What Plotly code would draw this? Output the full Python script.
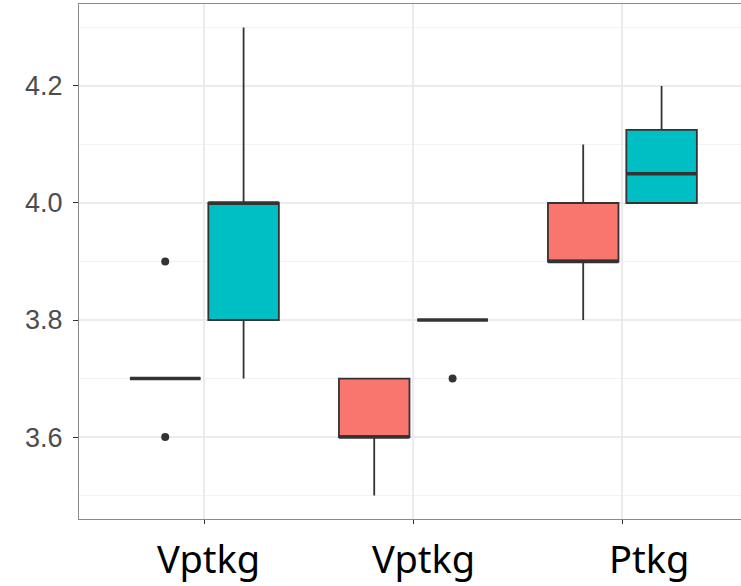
import plotly.graph_objects as go

# ---- data ----
cat_pos = [1, 2, 3]
cat_labels = ["Vptkg", "Vptkg", "Ptkg"]

red_q1 = [3.7, 3.6, 3.9]
red_median = [3.7, 3.6, 3.9]
red_q3 = [3.7, 3.7, 4.0]
red_low = [3.7, 3.5, 3.8]
red_high = [3.7, 3.7, 4.1]
red_out_cat = [1, 1]
red_out_val = [3.6, 3.9]

teal_q1 = [3.8, 3.8, 4.0]
teal_median = [4.0, 3.8, 4.05]
teal_q3 = [4.0, 3.8, 4.125]
teal_low = [3.7, 3.8, 4.0]
teal_high = [4.3, 3.8, 4.2]
teal_out_cat = [2]
teal_out_val = [3.7]

y_ticks = [3.6, 3.8, 4.0, 4.2]
y_tick_text = ["3.6", "3.8", "4.0", "4.2"]

# ---- style ----
RED = "#F8766D"
TEAL = "#00BFC4"
DARK = "#333333"
DODGE = 0.1875
HALF_W = 0.16875
label_xshift = [4, 10, 27]

fig = go.Figure()

groups = [
    (RED, red_q1, red_median, red_q3, red_low, red_high, red_out_cat, red_out_val, -DODGE),
    (TEAL, teal_q1, teal_median, teal_q3, teal_low, teal_high, teal_out_cat, teal_out_val, DODGE),
]

for color, q1, med, q3, lo, hi, oc, ov, off in groups:
    fig.add_trace(go.Box(
        x=cat_pos, q1=q1, median=med, q3=q3, lowerfence=lo, upperfence=hi,
        fillcolor=color, line=dict(color=DARK, width=1.8), whiskerwidth=0,
        boxpoints=False, showlegend=False, hoverinfo="skip",
    ))
for color, q1, med, q3, lo, hi, oc, ov, off in groups:
    mx, my = [], []
    for c, m in zip(cat_pos, med):
        mx += [c + off - HALF_W, c + off + HALF_W, None]
        my += [m, m, None]
    fig.add_trace(go.Scatter(x=mx, y=my, mode="lines",
                             line=dict(color=DARK, width=3.4),
                             showlegend=False, hoverinfo="skip"))
    fig.add_trace(go.Scatter(x=[c + off for c in oc], y=ov, mode="markers",
                             marker=dict(color=DARK, size=8),
                             showlegend=False, hoverinfo="skip"))

fig.update_layout(
    width=741, height=586,
    margin=dict(l=79, r=0, t=4, b=67),
    paper_bgcolor="white", plot_bgcolor="white",
    boxmode="group", boxgap=0.25, boxgroupgap=0.1,
    showlegend=False,
    font=dict(family="Liberation Sans, Arial, sans-serif"),
)
fig.update_xaxes(
    range=[0.4, 0.4 + 662 / 209], tickmode="array", tickvals=cat_pos,
    showticklabels=False, showgrid=True, gridcolor="#EBEBEB", gridwidth=1.6,
    zeroline=False, showline=True, linecolor="#8A8A8A", linewidth=1.3, mirror=True,
    ticks="outside", ticklen=4, tickcolor=DARK, tickwidth=1.3,
)
fig.update_yaxes(
    range=[3.46, 4.34], tickmode="array", tickvals=y_ticks, ticktext=y_tick_text,
    tickfont=dict(size=27, color="#4D4D4D", family="Liberation Sans, Arial, sans-serif"),
    ticklabelstandoff=5,
    showgrid=True, gridcolor="#EBEBEB", gridwidth=1.6,
    minor=dict(tickmode="array", tickvals=[3.5, 3.7, 3.9, 4.1, 4.3], showgrid=True,
               gridcolor="#F2F2F2", gridwidth=0.9, ticks=""),
    zeroline=False, showline=True, linecolor="#8A8A8A", linewidth=1.3, mirror=False,
    ticks="outside", ticklen=5, tickcolor=DARK, tickwidth=1.3,
)

for c, lab, xs in zip(cat_pos, cat_labels, label_xshift):
    fig.add_annotation(x=c, xref="x", y=-0.076, yref="paper", text=lab,
                       showarrow=False, xanchor="center", yanchor="middle", xshift=xs,
                       font=dict(size=38, color="black", family="Noto Sans, sans-serif"))

fig.write_html("out.html", config={"displayModeBar": False},
               post_script="document.body.style.margin='0';document.body.style.overflow='hidden';")
